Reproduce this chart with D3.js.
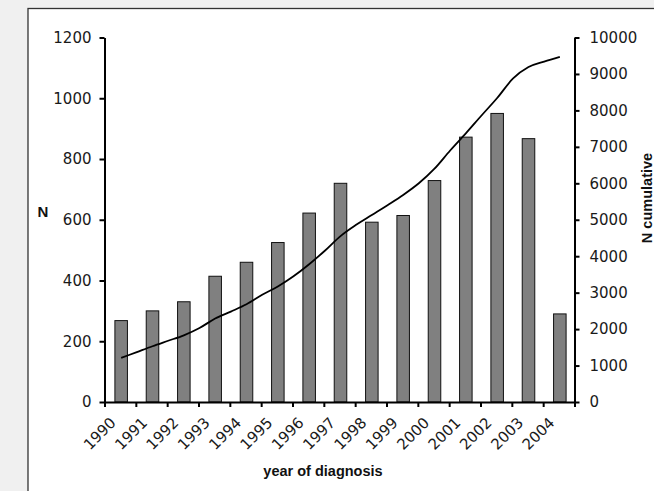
<!DOCTYPE html>
<html>
<head>
<meta charset="utf-8">
<script src="https://cdn.jsdelivr.net/npm/d3@7/dist/d3.min.js"></script>
<style>
  html, body { margin: 0; padding: 0; background: #f0f0f0; }
  svg { display: block; }
  .tick text { font-family: "DejaVu Sans", "Liberation Sans", Arial, sans-serif; font-size: 15px; fill: #1a1a1a; }
  .title { font-family: "Liberation Sans", Arial, sans-serif; font-weight: bold; fill: #111; }
</style>
</head>
<body>
<svg id="chart" width="654" height="491"></svg>
<script>
// ---- data ----
const years = [1990, 1991, 1992, 1993, 1994, 1995, 1996, 1997, 1998, 1999, 2000, 2001, 2002, 2003, 2004];
const counts = [268, 300, 330, 414, 460, 525, 622, 720, 592, 614, 729, 872, 950, 867, 290];
// cumulative curve (fractional year position, cumulative N)
const cumYears = [1990.0, 1990.5, 1991.0, 1991.5, 1992.0, 1992.5, 1993.0, 1993.5, 1994.0, 1994.5,
                  1995.0, 1995.5, 1996.0, 1996.5, 1997.0, 1997.5, 1998.0, 1998.5, 1999.0, 1999.5,
                  2000.0, 2000.5, 2001.0, 2001.5, 2002.0, 2002.5, 2003.0, 2003.5, 2004.0];
const cumValues = [1210, 1370, 1530, 1680, 1830, 2030, 2290, 2480, 2680, 2940,
                   3170, 3450, 3780, 4150, 4550, 4860, 5130, 5400, 5680, 6000,
                   6400, 6900, 7370, 7860, 8340, 8870, 9190, 9340, 9470];
const leftTicks = [0, 200, 400, 600, 800, 1000, 1200];
const rightTicks = [0, 1000, 2000, 3000, 4000, 5000, 6000, 7000, 8000, 9000, 10000];

// ---- layout ----
const svg = d3.select("#chart");
const W = 654, H = 491;
const plot = { left: 104.5, right: 574.5, top: 37.5, bottom: 402 };

svg.append("rect").attr("x", 0).attr("y", 0).attr("width", W).attr("height", H).attr("fill", "#f0f0f0");
svg.append("rect").attr("x", 28).attr("y", 8.5).attr("width", 700).attr("height", 600)
   .attr("fill", "#ffffff").attr("stroke", "#333").attr("stroke-width", 1.3);

const xBand = d3.scaleBand().domain(years).range([plot.left, plot.right]).paddingInner(0.6).paddingOuter(0.3);
const xLin = d3.scaleLinear().domain([1989.5, 2004.5]).range([plot.left, plot.right]);
const yL = d3.scaleLinear().domain([0, 1200]).range([plot.bottom, plot.top]);
const yR = d3.scaleLinear().domain([0, 10000]).range([plot.bottom, plot.top]);

// bars
svg.append("g").selectAll("rect").data(years).join("rect")
  .attr("x", (d) => xBand(d) + 1)
  .attr("y", (d, i) => yL(counts[i]))
  .attr("width", xBand.bandwidth())
  .attr("height", (d, i) => plot.bottom - yL(counts[i]))
  .attr("fill", "#808080").attr("stroke", "#111").attr("stroke-width", 1);

// cumulative line
const line = d3.line().x((d) => xLin(d[0]) + 1).y((d) => yR(d[1])).curve(d3.curveMonotoneX);
svg.append("path").datum(cumYears.map((y, i) => [y, cumValues[i]]))
  .attr("d", line).attr("fill", "none").attr("stroke", "#000").attr("stroke-width", 1.8);

function styleAxis(g) {
  g.select(".domain").attr("stroke", "#000").attr("stroke-width", 2);
  g.selectAll(".tick line").attr("stroke", "#000").attr("stroke-width", 2);
}

const fmt = d3.format("d");

// left axis
svg.append("g").attr("transform", `translate(${plot.left},0)`)
  .call(d3.axisLeft(yL).tickValues(leftTicks).tickFormat(fmt).tickSize(5).tickSizeOuter(0).tickPadding(8))
  .call(styleAxis);

// right axis
svg.append("g").attr("transform", `translate(${plot.right},0)`)
  .call(d3.axisRight(yR).tickValues(rightTicks).tickFormat(fmt).tickSize(5).tickSizeOuter(0).tickPadding(10))
  .call(styleAxis);

// bottom axis: ticks at category boundaries
svg.append("g").attr("transform", `translate(0,${plot.bottom})`)
  .call(d3.axisBottom(xLin).tickValues(d3.range(0, 16).map((i) => 1989.5 + i)).tickFormat("").tickSize(5).tickSizeOuter(0))
  .call(styleAxis);

// bottom labels at category centres, rotated
const lab = svg.append("g").attr("transform", `translate(0,${plot.bottom})`)
  .call(d3.axisBottom(xBand).tickSize(0).tickPadding(0));
lab.select(".domain").remove();
lab.selectAll(".tick text")
  .attr("text-anchor", "end")
  .attr("x", 0).attr("y", 0).attr("dy", "0.35em")
  .attr("transform", "translate(-7,18) rotate(-45)");

// titles
svg.append("text").attr("class", "title").attr("x", 43).attr("y", 217)
  .attr("text-anchor", "middle").attr("font-size", 15).text("N");
svg.append("text").attr("class", "title").attr("font-size", 14.5)
  .attr("text-anchor", "middle").attr("transform", "translate(652,198) rotate(-90)").text("N cumulative");
svg.append("text").attr("class", "title").attr("x", 323).attr("y", 476)
  .attr("text-anchor", "middle").attr("font-size", 14.5).text("year of diagnosis");
</script>
</body>
</html>
